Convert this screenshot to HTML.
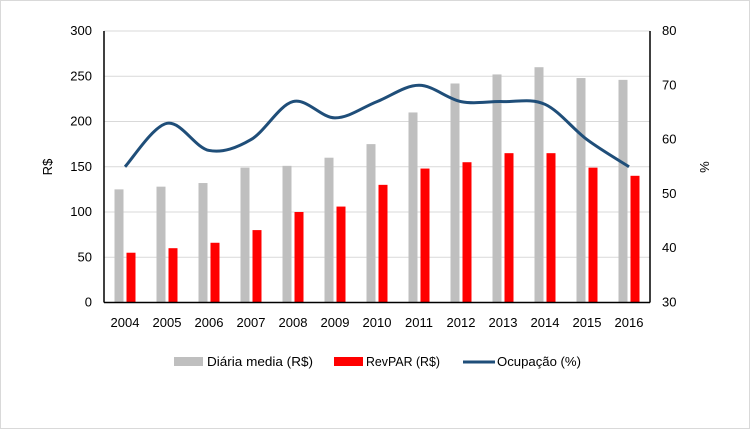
<!DOCTYPE html>
<html><head><meta charset="utf-8"><style>
body{margin:0;background:#fff}
svg{display:block;font-family:"Liberation Sans",sans-serif}
</style></head><body>
<svg id="chart" width="750" height="429" xmlns="http://www.w3.org/2000/svg">
<rect x="0.5" y="0.5" width="749" height="428" fill="#fff" stroke="#d9d9d9"/>
<g id="grid"></g><g id="bars"></g><g id="line"></g><g id="axes"></g>
<text x="52" y="167" font-size="13" fill="#000" transform="rotate(-90 52 167)" text-anchor="middle">R$</text>
<text x="700" y="167" font-size="13" fill="#000" transform="rotate(90 700 167)" text-anchor="middle">%</text>
<g>
<g><rect x="174" y="357" width="29" height="9" fill="#bfbfbf"/><text x="207" y="366" font-size="13" textLength="106" lengthAdjust="spacingAndGlyphs">Diária media (R$)</text></g>
<g><rect x="334" y="357" width="29" height="9" fill="#ff0000"/><text x="366" y="366" font-size="13" textLength="74" lengthAdjust="spacingAndGlyphs">RevPAR (R$)</text></g>
<g><line x1="463" y1="362" x2="495" y2="362" stroke="#1f4e79" stroke-width="3"/><text x="497" y="366" font-size="13" textLength="84" lengthAdjust="spacingAndGlyphs">Ocupação (%)</text></g>
</g>
</svg>
<script>
const categories=["2004","2005","2006","2007","2008","2009","2010","2011","2012","2013","2014","2015","2016"];
const diaria=[125,128,132,149,151,160,175,210,242,252,260,248,246];
const revpar=[55,60,66,80,100,106,130,148,155,165,165,149,140];
const ocupacao=[55,63,58,60,67,64,67,70,67,67,66.5,60,55];
const leftTicks=[0,50,100,150,200,250,300];
const rightTicks=[30,40,50,60,70,80];
const NS="http://www.w3.org/2000/svg";
const X0=104,X1=650,Y0=302.5,Y1=31;
const band=(X1-X0)/categories.length;
const xc=i=>X0+band*(i+0.5);
const yl=v=>Y0-(v/300)*(Y0-Y1);
const yr=v=>Y0-((v-30)/50)*(Y0-Y1);
function mk(tag,attrs,parent){const e=document.createElementNS(NS,tag);for(const k in attrs)e.setAttribute(k,attrs[k]);parent.appendChild(e);return e;}
const grid=document.getElementById('grid'),bars=document.getElementById('bars'),line=document.getElementById('line'),axes=document.getElementById('axes');
leftTicks.forEach(t=>{
 if(t>0){const g=mk('line',{x1:X0,x2:X1,y1:yl(t),y2:yl(t),stroke:'#d9d9d9'},grid);
 
 }
 const tx=mk('text',{x:X0-12,y:yl(t)+4,'font-size':13,'text-anchor':'end'},axes);tx.textContent=t;
 
 
});
rightTicks.forEach(t=>{
 const tx=mk('text',{x:X1+12,y:yr(t)+4,'font-size':13},axes);tx.textContent=t;
 
 
});
categories.forEach((c,i)=>{
 const b1=mk('rect',{x:xc(i)-10.5,width:9,y:yl(diaria[i]),height:Y0-yl(diaria[i]),fill:'#bfbfbf'},bars);
 
 
 const b2=mk('rect',{x:xc(i)+1.5,width:9,y:yl(revpar[i]),height:Y0-yl(revpar[i]),fill:'#ff0000'},bars);
 
 
 const tx=mk('text',{x:xc(i),y:327,'font-size':13,'text-anchor':'middle'},axes);tx.textContent=c;
 
 
});
const pts=ocupacao.map((v,i)=>[xc(i),yr(v)]);
let d='M'+pts[0][0]+','+pts[0][1];
for(let i=0;i<pts.length-1;i++){
 const p0=pts[i-1]||pts[i],p1=pts[i],p2=pts[i+1],p3=pts[i+2]||p2,t=6;
 d+=` C${p1[0]+(p2[0]-p0[0])/t},${p1[1]+(p2[1]-p0[1])/t} ${p2[0]-(p3[0]-p1[0])/t},${p2[1]-(p3[1]-p1[1])/t} ${p2[0]},${p2[1]}`;
}
const pl=mk('path',{d:d,fill:'none',stroke:'#1f4e79','stroke-width':3},line);


const a1=mk('line',{x1:X0,x2:X0,y1:Y1,y2:Y0,stroke:'#000','stroke-width':1.5},axes);


const a2=mk('line',{x1:X1,x2:X1,y1:Y1,y2:Y0,stroke:'#000','stroke-width':1.5},axes);


const a3=mk('line',{x1:X0,x2:X1,y1:Y0,y2:Y0,stroke:'#000','stroke-width':1.5},axes);


</script>
</body></html>
